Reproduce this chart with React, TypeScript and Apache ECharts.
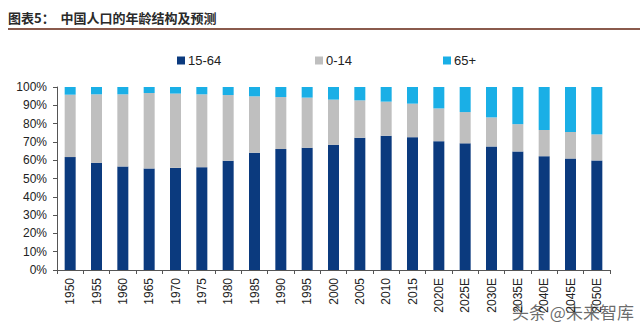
import React, { useEffect, useRef } from "react";
import * as echarts from "echarts";

const categories = ["1950","1955","1960","1965","1970","1975","1980","1985","1990","1995","2000","2005","2010","2015","2020E","2025E","2030E","2035E","2040E","2045E","2050E"];
const working = [61.7,58.6,56.6,55.5,55.8,56.2,59.7,64.1,66.1,66.8,68.4,72.3,73.4,72.6,70.4,69.2,67.5,64.8,62.2,60.9,59.9];
const children = [34.1,37.4,39.4,41.2,40.6,39.8,35.9,30.8,28.4,27.4,24.7,20.4,18.6,18.3,17.9,17.1,15.9,14.9,14.3,14.5,14.2];
const elderly = [4.2,4.0,4.0,3.3,3.6,4.0,4.4,5.1,5.5,5.8,6.9,7.3,8.0,9.1,11.7,13.7,16.6,20.3,23.5,24.6,25.9];
const seriesNames = ["15-64", "0-14", "65+"];
const colors = ["#0b3a7e", "#bfbfbf", "#1aafe6"];

export default function App() {
  const ref = useRef<HTMLDivElement>(null);
  useEffect(() => {
    const chart = echarts.init(ref.current!, null, { renderer: "svg" });
    const dataSets = [working, children, elderly];
    const legendLefts = [172, 310, 438];
    chart.setOption({
      animation: false,
      textStyle: { fontFamily: "Liberation Sans, Arial, sans-serif" },
      grid: { left: 57, right: 30, top: 87, bottom: 61, containLabel: false },
      legend: seriesNames.map((n, i) => ({
        data: [n],
        left: legendLefts[i],
        top: 49,
        itemWidth: 8,
        itemHeight: 8,
        itemGap: 4,
        icon: "rect",
        textStyle: { fontSize: 13, color: "#222", padding: [0, 0, 0, -2] },
        selectedMode: false,
      })),
      xAxis: {
        type: "category",
        data: categories,
        boundaryGap: true,
        axisLine: { lineStyle: { color: "#555", width: 1 } },
        axisTick: { show: true, alignWithLabel: false, length: 4, lineStyle: { color: "#555" } },
        axisLabel: { rotate: 90, fontSize: 12, color: "#222", margin: 8, interval: 0 },
      },
      yAxis: {
        type: "value",
        min: 0,
        max: 100,
        interval: 10,
        splitLine: { show: false },
        axisLine: { show: true, lineStyle: { color: "#555", width: 1 } },
        axisTick: { show: true, length: 4, lineStyle: { color: "#555" } },
        axisLabel: { formatter: "{value}%", fontSize: 12, color: "#222", margin: 10 },
      },
      series: seriesNames.map((n, i) => ({
        name: n,
        type: "bar",
        stack: "total",
        data: dataSets[i],
        barWidth: 11,
        itemStyle: { color: colors[i] },
      })),
      graphic: [
        {
          type: "text",
          left: 8,
          top: 11,
          style: {
            text: "图表5：  中国人口的年龄结构及预测",
            font: "bold 13px 'Noto Sans CJK SC'",
            fill: "#2a2a2a",
          },
        },
        {
          type: "line",
          shape: { x1: 8, y1: 29, x2: 640, y2: 29 },
          style: { stroke: "#8a5a4c", lineWidth: 2 },
        },
        {
          type: "text",
          left: 512,
          top: 303,
          style: {
            text: "头条 @未来智库",
            font: "17px 'Noto Sans CJK SC'",
            fill: "#3a3a3a",
            opacity: 0.75,
          },
        },
      ],
    });
    return () => chart.dispose();
  }, []);
  return <div ref={ref} style={{ width: 640, height: 331, position: "absolute", left: 0, top: 0, background: "#fff" }} />;
}
